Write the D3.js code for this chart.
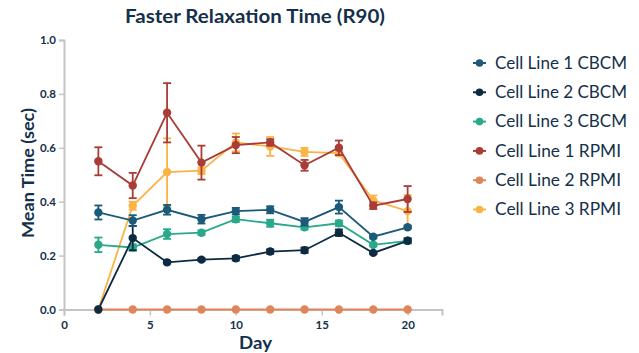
<!DOCTYPE html>
<html>
<head>
<meta charset="utf-8">
<script src="https://cdn.jsdelivr.net/npm/d3@7"></script>
<style>
  html, body { margin: 0; padding: 0; background: #fff; }
  svg { display: block; font-family: Lato, "Noto Sans", sans-serif; }
</style>
</head>
<body>
<svg id="chart" width="639" height="353"></svg>
<script>
// Measurement days
const days = [2, 4, 6, 8, 10, 12, 14, 16, 18, 20];

// Series names (legend order)
const seriesNames = [
  "Cell Line 1 CBCM", "Cell Line 2 CBCM", "Cell Line 3 CBCM",
  "Cell Line 1 RPMI", "Cell Line 2 RPMI", "Cell Line 3 RPMI"
];

// Mean relaxation time (sec) per series
const cl1CBCM = [0.36, 0.33, 0.37, 0.335, 0.365, 0.37, 0.325, 0.38, 0.27, 0.305];
const cl2CBCM = [0.0, 0.265, 0.175, 0.185, 0.19, 0.215, 0.22, 0.285, 0.21, 0.255];
const cl3CBCM = [0.24, 0.23, 0.28, 0.285, 0.335, 0.32, 0.305, 0.32, 0.24, 0.255];
const cl1RPMI = [0.55, 0.46, 0.73, 0.545, 0.61, 0.62, 0.535, 0.60, 0.385, 0.41];
const cl2RPMI = [0, 0, 0, 0, 0, 0, 0, 0, 0, 0];
const cl3RPMI = [0.0, 0.385, 0.51, 0.515, 0.62, 0.605, 0.585, 0.58, 0.405, 0.365];

// Standard error per point
const cl1CBCMErr = [0.026, 0.02, 0.018, 0.016, 0.012, 0.013, 0.014, 0.024, 0.006, 0.006];
const cl2CBCMErr = [0, 0.045, 0.005, 0.005, 0.008, 0.008, 0.01, 0.012, 0.004, 0.008];
const cl3CBCMErr = [0.027, 0.012, 0.018, 0.008, 0.01, 0.013, 0.008, 0.01, 0.006, 0.01];
const cl1RPMIErr = [0.052, 0.047, 0.11, 0.063, 0.03, 0.012, 0.02, 0.027, 0.012, 0.048];
const cl2RPMIErr = [0, 0, 0, 0, 0, 0, 0, 0, 0, 0];
const cl3RPMIErr = [0, 0.015, 0.125, 0.012, 0.033, 0.035, 0.015, 0.01, 0.018, 0.06];

const xTicks = [0, 5, 10, 15, 20];
const yTicks = [0, 0.2, 0.4, 0.6, 0.8, 1.0];

const colors = ["#1c5a79", "#0e2a42", "#27a98a", "#a93c36", "#e0855a", "#fbb346"];

const seriesValues = [cl1CBCM, cl2CBCM, cl3CBCM, cl1RPMI, cl2RPMI, cl3RPMI];
const seriesErrs = [cl1CBCMErr, cl2CBCMErr, cl3CBCMErr, cl1RPMIErr, cl2RPMIErr, cl3RPMIErr];

const series = seriesNames.map((name, i) => ({
  name, color: colors[i],
  points: days.map((d, j) => ({ x: d, y: seriesValues[i][j], e: seriesErrs[i][j] }))
}));

const textColor = "#14304a";
const axisColor = "#c4c4c6";

const svg = d3.select("#chart");
const margin = { left: 64, top: 40, right: 197, bottom: 43.5 };
const width = 639 - margin.left - margin.right;
const height = 353 - margin.top - margin.bottom;

const x = d3.scaleLinear().domain([0, 22]).range([margin.left, margin.left + width]);
const y = d3.scaleLinear().domain([0, 1]).range([margin.top + height, margin.top]);

// Title
svg.append("text")
  .attr("x", 125).attr("y", 23)
  .attr("font-size", 18).attr("font-weight", 700)
  .attr("fill", textColor)
  .attr("textLength", 260).attr("lengthAdjust", "spacingAndGlyphs")
  .text("Faster Relaxation Time (R90)");

// Axes
const xAxis = svg.append("g")
  .attr("transform", `translate(0,${y(0)})`)
  .call(d3.axisBottom(x).tickValues(xTicks).tickFormat(d3.format("d")).tickSize(6).tickPadding(5));
const yAxis = svg.append("g")
  .attr("transform", `translate(${x(0)},0)`)
  .call(d3.axisLeft(y).tickValues(yTicks).tickFormat(d3.format(".1f")).tickSize(5).tickPadding(3));

[xAxis, yAxis].forEach(g => {
  g.selectAll("path.domain").attr("stroke", axisColor).attr("stroke-width", 2);
  g.selectAll(".tick line").attr("stroke", axisColor).attr("stroke-width", 1.5);
  g.selectAll(".tick text")
    .attr("fill", textColor).attr("font-size", 11.5).attr("font-weight", 700)
    .attr("font-family", "Lato, 'Noto Sans', sans-serif");
});

// Axis titles
svg.append("text")
  .attr("x", 239).attr("y", 348.5)
  .attr("font-size", 16.5).attr("font-weight", 700)
  .attr("fill", textColor)
  .attr("textLength", 33).attr("lengthAdjust", "spacingAndGlyphs")
  .text("Day");
svg.append("text")
  .attr("transform", `translate(33.5,238) rotate(-90)`)
  .attr("font-size", 17.5).attr("font-weight", 700)
  .attr("fill", textColor)
  .attr("textLength", 130).attr("lengthAdjust", "spacingAndGlyphs")
  .text("Mean Time (sec)");

// Data: later series drawn first so the first series sits on top
const line = d3.line().x(d => x(d.x)).y(d => y(d.y));
const plot = svg.append("g");
series.slice().reverse().forEach(s => {
  const g = plot.append("g");
  g.append("path")
    .datum(s.points)
    .attr("d", line)
    .attr("fill", "none")
    .attr("stroke", s.color)
    .attr("stroke-width", 1.8);
  const eb = g.selectAll("g.err").data(s.points.filter(p => p.e > 0)).join("g");
  eb.append("line")
    .attr("x1", d => x(d.x)).attr("x2", d => x(d.x))
    .attr("y1", d => y(d.y - d.e)).attr("y2", d => y(d.y + d.e))
    .attr("stroke", s.color).attr("stroke-width", 1.8);
  [-1, 1].forEach(sign => {
    eb.append("line")
      .attr("x1", d => x(d.x) - 4).attr("x2", d => x(d.x) + 4)
      .attr("y1", d => y(d.y + sign * d.e)).attr("y2", d => y(d.y + sign * d.e))
      .attr("stroke", s.color).attr("stroke-width", 1.8);
  });
  g.selectAll("circle").data(s.points).join("circle")
    .attr("cx", d => x(d.x)).attr("cy", d => y(d.y))
    .attr("r", 4.2)
    .attr("fill", s.color);
});

// Legend
const legend = svg.append("g");
series.forEach((s, i) => {
  const ly = 63 + i * 29.3;
  legend.append("line")
    .attr("x1", 473).attr("x2", 486).attr("y1", ly).attr("y2", ly)
    .attr("stroke", s.color).attr("stroke-width", 2);
  legend.append("circle")
    .attr("cx", 479.5).attr("cy", ly).attr("r", 3.8).attr("fill", s.color);
  legend.append("text")
    .attr("x", 495).attr("y", ly + 5.8)
    .attr("font-size", 17).attr("fill", textColor)
    .attr("textLength", s.name.endsWith("CBCM") ? 132 : 126)
    .attr("lengthAdjust", "spacingAndGlyphs")
    .text(s.name);
});
</script>
</body>
</html>
